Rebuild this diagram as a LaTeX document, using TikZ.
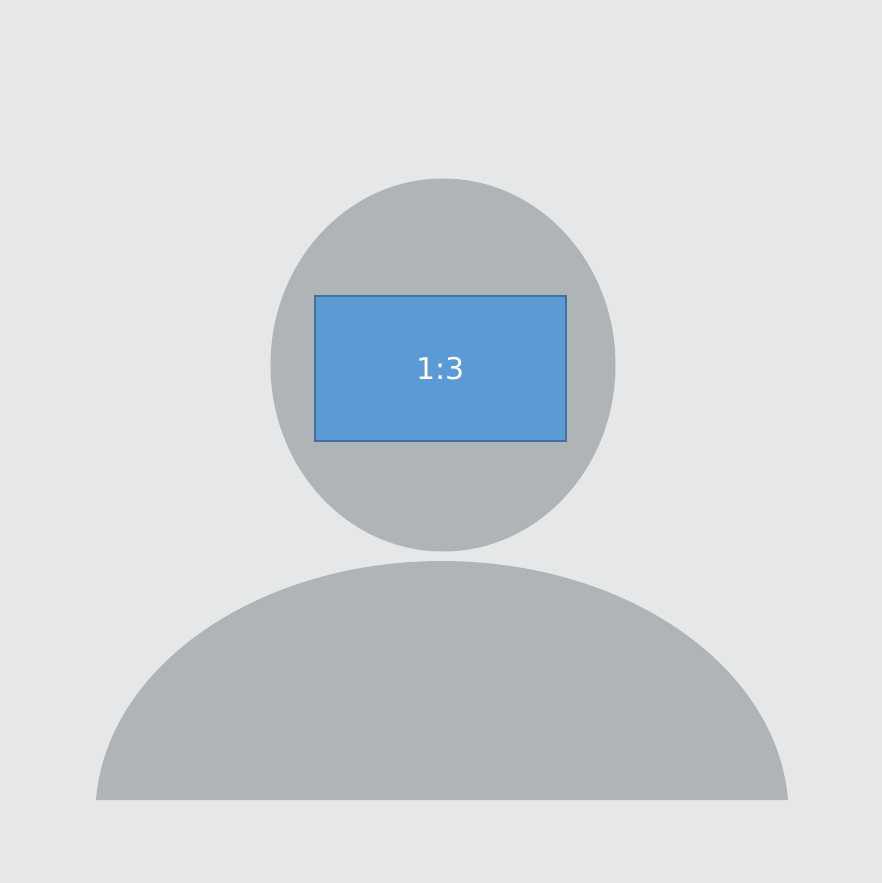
\documentclass[tikz,border=0pt]{standalone}
\usepackage{fontspec}
\setmainfont{DejaVu Sans}
\usepackage{tikz}
\usetikzlibrary{shapes.geometric}
\definecolor{bggray}{HTML}{E5E7E9}
\definecolor{figgray}{HTML}{AFB4B7}
\definecolor{boxblue}{HTML}{5B9BD5}
\definecolor{boxline}{HTML}{41719C}
\begin{document}
\begin{tikzpicture}[x=1pt,y=-1pt]
            \useasboundingbox (0,0) rectangle (882,883);
            \fill[bggray] (0,0) rectangle (882,883);
            \node at (443,365) [ellipse, fill=figgray, minimum width=345pt, minimum height=373pt, inner sep=0pt] (head) {};
            \fill[figgray] (96,800) arc[start angle=183.39, end angle=356.61, x radius=346.6, y radius=254] -- cycle;
            \node at (440.5,368.3) [rectangle, draw=boxline, line width=2pt, fill=boxblue, minimum width=251pt, minimum height=145pt, inner sep=0pt, text=white, font=\fontsize{30}{36}\selectfont] (ratio) {1:3};
        \end{tikzpicture}
\end{document}
